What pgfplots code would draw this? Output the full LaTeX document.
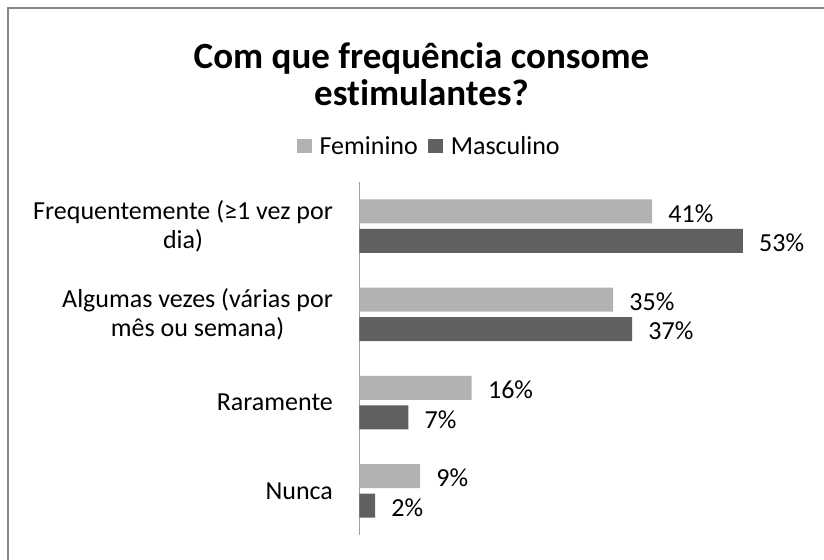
\documentclass[border=0pt]{standalone}
\usepackage{pgfplots}
\pgfplotsset{compat=1.18}
\usepackage{pgfplotstable}
\usepackage{fontspec}
\setmainfont{Carlito}[Ligatures=NoCommon]

\definecolor{fem}{RGB}{178,178,178}
\definecolor{masc}{RGB}{96,96,96}
\definecolor{framegray}{RGB}{134,134,134}
\definecolor{axisgray}{RGB}{160,160,160}

% y: 3 = Frequentemente ... 0 = Nunca; bar lengths, labels as printed
\pgfplotstableread{
y  fem    flab  masc   mlab
3  40.45  41    53.00  53
2  35.06  35    37.69  37
1  15.53  16     6.77   7
0   8.39   9     2.17   2
}\freqdata

\begin{document}
\begin{tikzpicture}[x=0.5pt,y=0.5pt]
\path[use as bounding box] (0,0) rectangle (824,559);
\draw[framegray, line width=1pt] (8.3,-2) -- (8.3,550.7) -- (826,550.7);

\node[anchor=base, font=\fontsize{18.5}{22}\selectfont\bfseries] at (421.5,491) {Com que frequência consome};
\node[anchor=base, font=\fontsize{18.5}{22}\selectfont\bfseries] at (421.5,454) {estimulantes?};

\begin{axis}[
  at={(179.65pt,12pt)}, anchor=south west,
  scale only axis,
  width=199pt, height=176.5pt,
  xmin=0, xmax=55,
  ymin=-0.5, ymax=3.5,
  xbar, bar width=12pt,
  hide x axis,
  axis y line*=left,
  y axis line style={axisgray, line width=0.75pt, -},
  ytick={0,1,2,3},
  yticklabels={Nunca, Raramente, {Algumas vezes (várias por\\mês ou semana)}, {Frequentemente (≥1 vez por\\dia)}},
  yticklabel style={align=center, font=\fontsize{13}{14.5}\selectfont, inner sep=0pt, xshift=-13pt},
  major tick length=0pt,
  legend style={at={(0.173,1.099)}, anchor=center, draw=none, fill=none,
    legend columns=-1, font=\fontsize{13}{15}\selectfont,
    nodes={inner sep=0pt},
    /tikz/every odd column/.append style={column sep=4pt},
    /tikz/every even column/.append style={column sep=5pt}},
  legend image code/.code={\fill[#1] (0pt,-3pt) rectangle (7.5pt,4pt);},
  nodes near coords={\pgfplotspointmeta\%},
  point meta=explicit symbolic,
  every node near coord/.append style={font=\fontsize{13}{15}\selectfont, inner sep=0pt, anchor=west, xshift=8pt, yshift=-1pt, text=black},
]
\addplot[xbar, fill=fem, draw=none, bar shift=7.4pt] table[x=fem, y=y, meta=flab] {\freqdata};
\addlegendentry{Feminino}
\addplot[xbar, fill=masc, draw=none, bar shift=-7.4pt] table[x=masc, y=y, meta=mlab] {\freqdata};
\addlegendentry{Masculino}
\end{axis}
\end{tikzpicture}
\end{document}
